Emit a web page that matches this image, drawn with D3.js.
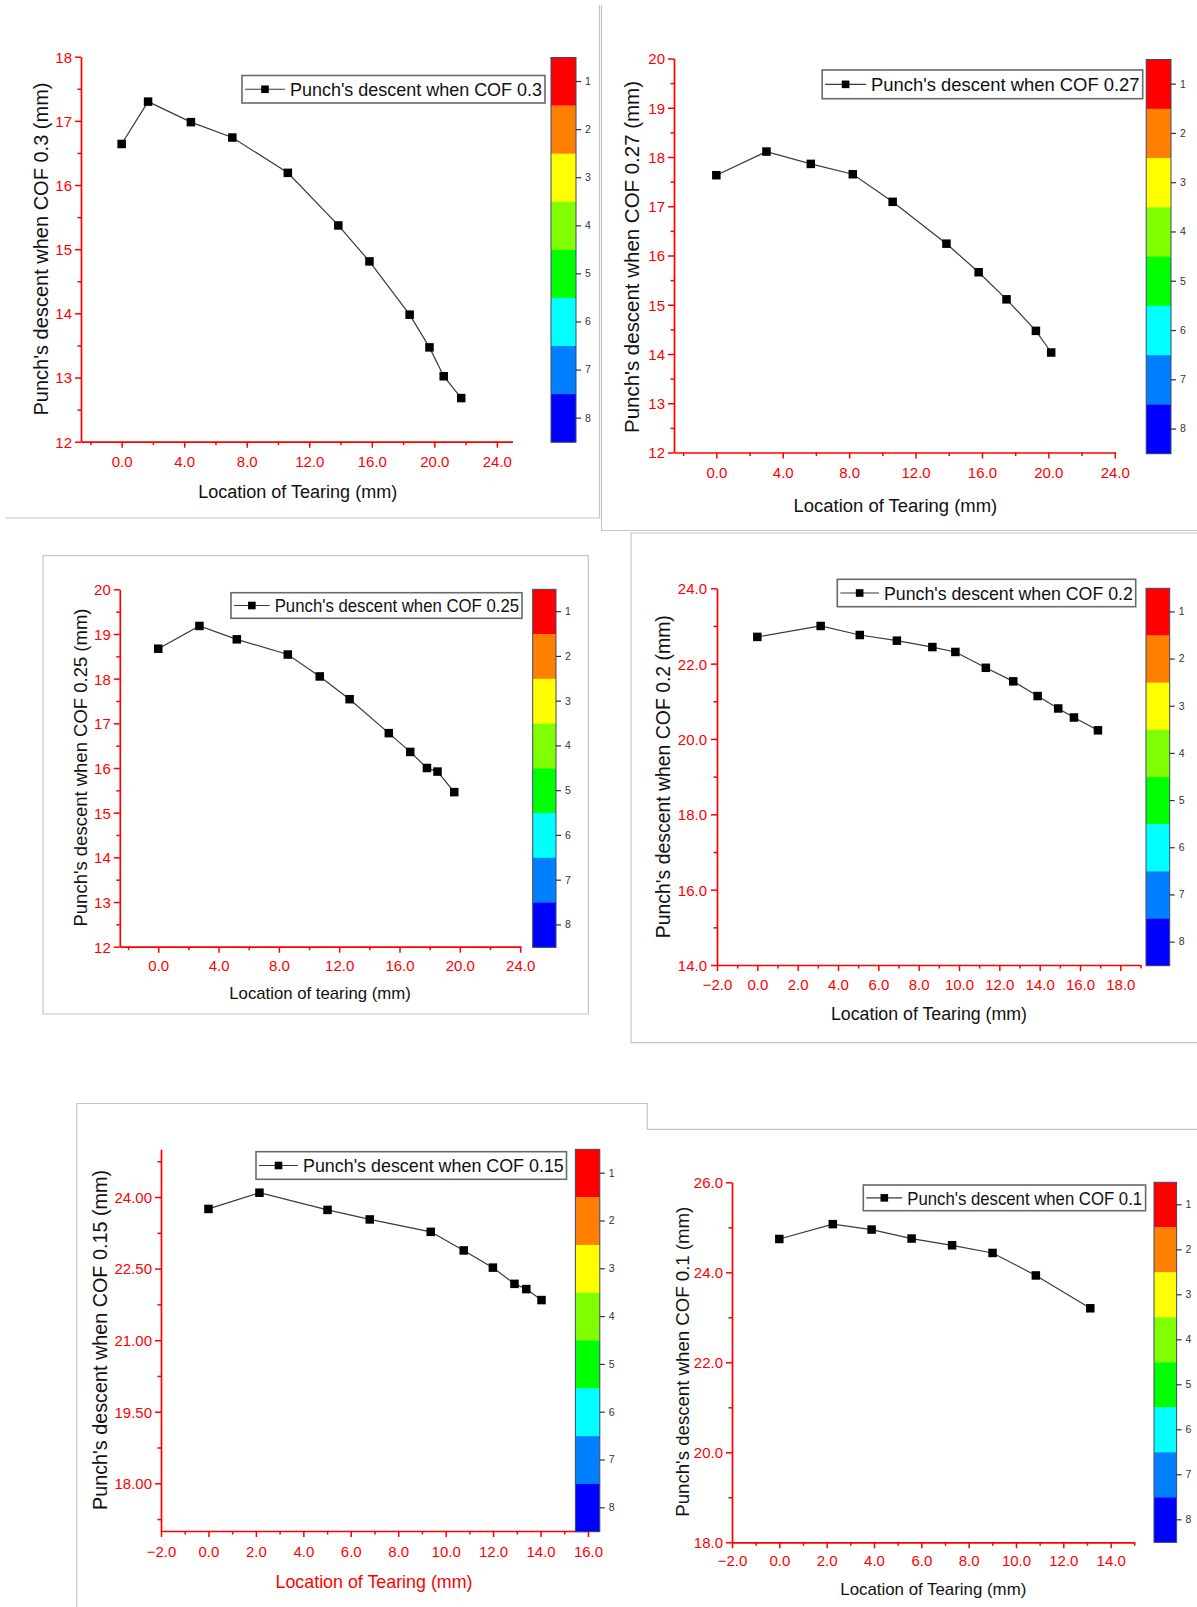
<!DOCTYPE html>
<html>
<head>
<meta charset="utf-8">
<script src="https://cdn.jsdelivr.net/npm/d3@7"></script>
<style>
  body { margin: 0; background: #ffffff; }
  svg { display: block; }
</style>
</head>
<body>
<svg id="chart" width="1197" height="1607"></svg>
<script>
// ---------------- DATA ----------------
const locCOF030  = [0.0, 1.69, 4.43, 7.08, 10.63, 13.86, 15.85, 18.42, 19.69, 20.60, 21.72];
const descCOF030 = [16.64, 17.30, 16.98, 16.74, 16.19, 15.37, 14.81, 13.98, 13.47, 13.02, 12.68];

const locCOF027  = [0.0, 3.02, 5.69, 8.22, 10.62, 13.86, 15.80, 17.48, 19.25, 20.17];
const descCOF027 = [17.63, 18.11, 17.86, 17.65, 17.09, 16.24, 15.66, 15.11, 14.47, 14.03];

const locCOF025  = [0.0, 2.73, 5.21, 8.59, 10.71, 12.69, 15.29, 16.71, 17.82, 18.52, 19.63];
const descCOF025 = [18.67, 19.18, 18.88, 18.54, 18.05, 17.54, 16.78, 16.36, 16.00, 15.92, 15.46];

const locCOF020  = [0.0, 3.14, 5.08, 6.92, 8.68, 9.82, 11.33, 12.69, 13.90, 14.92, 15.70, 16.89];
const descCOF020 = [22.71, 23.00, 22.76, 22.61, 22.44, 22.31, 21.89, 21.53, 21.14, 20.81, 20.57, 20.23];

const locCOF015  = [0.0, 2.15, 5.02, 6.80, 9.37, 10.76, 11.99, 12.90, 13.40, 14.04];
const descCOF015 = [23.75, 24.09, 23.73, 23.53, 23.27, 22.88, 22.52, 22.18, 22.07, 21.84];

const locCOF010  = [0.0, 2.26, 3.90, 5.59, 7.30, 9.01, 10.84, 13.14];
const descCOF010 = [24.74, 25.07, 24.95, 24.75, 24.60, 24.43, 23.93, 23.20];

// tick values
const xTicks0to24   = [0, 4, 8, 12, 16, 20, 24];
const xMinor0to24   = [-2, 2, 6, 10, 14, 18, 22];
const yTicks12to18  = [12, 13, 14, 15, 16, 17, 18];
const yMinor12to18  = [12.5, 13.5, 14.5, 15.5, 16.5, 17.5];
const yTicks12to20  = [12, 13, 14, 15, 16, 17, 18, 19, 20];
const yMinor12to20  = [12.5, 13.5, 14.5, 15.5, 16.5, 17.5, 18.5, 19.5];
const xTicksM2to18  = [-2, 0, 2, 4, 6, 8, 10, 12, 14, 16, 18];
const xMinorM2to18  = [-1, 1, 3, 5, 7, 9, 11, 13, 15, 17, 19];
const yTicks14to24  = [14, 16, 18, 20, 22, 24];
const yMinor14to24  = [15, 17, 19, 21, 23];
const xTicksM2to16  = [-2, 0, 2, 4, 6, 8, 10, 12, 14, 16];
const xMinorM2to16  = [-1, 1, 3, 5, 7, 9, 11, 13, 15];
const yTicks18to24  = [18, 19.5, 21, 22.5, 24];
const yMinor18to24  = [17.25, 18.75, 20.25, 21.75, 23.25, 24.75];
const xTicksM2to14  = [-2, 0, 2, 4, 6, 8, 10, 12, 14];
const xMinorM2to14  = [-1, 1, 3, 5, 7, 9, 11, 13, 15];
const yTicks18to26  = [18, 20, 22, 24, 26];
const yMinor18to26  = [19, 21, 23, 25];

const colorbarColors = ["#FF0000", "#FF8000", "#FFFF00", "#80FF00", "#00FF00", "#00FFFF", "#0080FF", "#0000FF"];
const colorbarLabels = ["1", "2", "3", "4", "5", "6", "7", "8"];

const legendNames = [
  "Punch's descent when COF 0.3",
  "Punch's descent when COF 0.27",
  "Punch's descent when COF 0.25",
  "Punch's descent when COF 0.2",
  "Punch's descent when COF 0.15",
  "Punch's descent when COF 0.1"
];
const yTitles = [
  "Punch's descent when COF 0.3 (mm)",
  "Punch's descent when COF 0.27 (mm)",
  "Punch's descent when COF 0.25 (mm)",
  "Punch's descent when COF 0.2 (mm)",
  "Punch's descent when COF 0.15 (mm)",
  "Punch's descent when COF 0.1 (mm)"
];
const xTitles = [
  "Location of Tearing (mm)",
  "Location of Tearing (mm)",
  "Location of tearing (mm)",
  "Location of Tearing (mm)",
  "Location of Tearing (mm)",
  "Location of Tearing (mm)"
];

// ---------------- LAYOUT / STYLE ----------------
const FONT = "'Liberation Sans', Arial, Helvetica, sans-serif";
const RED = "#ff0000";
const f1 = d3.format(".1f"), fInt = d3.format("d"), f2 = d3.format(".2f");

const panels = [
  { xs: locCOF030, ys: descCOF030, xDomain: [-2.6, 25], yDomain: [12, 18],
    xMajor: xTicks0to24, xMinor: xMinor0to24, yMajor: yTicks12to18, yMinor: yMinor12to18, xFmt: f1, yFmt: fInt,
    L: { left: 81, right: 512.5, top: 56.7, bottom: 441.7, xTickOff: 20, yTickOff: 9,
         leg: [242, 75.5, 545, 103], legText: 290, legLen: 252,
         cb: [551, 57.5, 576, 442.2],
         yt: [41, 249, 333, 20], xt: [297.7, 491.5, 199, 18], xtColor: "#111" } },
  { xs: locCOF027, ys: descCOF027, xDomain: [-2.55, 24.05], yDomain: [12, 20],
    xMajor: xTicks0to24, xMinor: xMinor0to24, yMajor: yTicks12to20, yMinor: yMinor12to20, xFmt: f1, yFmt: fInt,
    L: { left: 674, right: 1115.6, top: 58.5, bottom: 452.5, xTickOff: 20.5, yTickOff: 9,
         leg: [822.2, 70, 1142.7, 98.7], legText: 871, legLen: 268.6,
         cb: [1146.2, 59.5, 1171, 453.7],
         yt: [632.4, 257, 352, 20], xt: [895.4, 505.4, 203.6, 18], xtColor: "#111" } },
  { xs: locCOF025, ys: descCOF025, xDomain: [-2.55, 24.05], yDomain: [12, 20],
    xMajor: xTicks0to24, xMinor: xMinor0to24, yMajor: yTicks12to20, yMinor: yMinor12to20, xFmt: f1, yFmt: fInt,
    L: { left: 119.8, right: 520.9, top: 589.3, bottom: 946.7, xTickOff: 18.5, yTickOff: 9,
         leg: [231, 592.7, 522, 618.3], legText: 274.7, legLen: 244.4,
         cb: [532.7, 589.3, 556, 947.3],
         yt: [81, 767.5, 318, 18.5], xt: [320, 993, 181.5, 17], xtColor: "#111" } },
  { xs: locCOF020, ys: descCOF020, xDomain: [-2, 19], yDomain: [14, 24],
    xMajor: xTicksM2to18, xMinor: xMinorM2to18, yMajor: yTicks14to24, yMinor: yMinor14to24, xFmt: f1, yFmt: f1,
    L: { left: 717, right: 1140.5, top: 588.3, bottom: 965, xTickOff: 20, yTickOff: 10,
         leg: [837.3, 579.3, 1135.7, 606.7], legText: 884, legLen: 248.8,
         cb: [1146, 588.3, 1169.7, 965.7],
         yt: [663, 776.7, 323, 19.4], xt: [929, 1014, 196, 17.6], xtColor: "#111" } },
  { xs: locCOF015, ys: descCOF015, xDomain: [-2, 16], yDomain: [17, 25],
    xMajor: xTicksM2to16, xMinor: xMinorM2to16, yMajor: yTicks18to24, yMinor: yMinor18to24, xFmt: f1, yFmt: f2,
    L: { left: 161, right: 588, top: 1149.3, bottom: 1531, xTickOff: 20.5, yTickOff: 9,
         leg: [256, 1151.7, 566.5, 1179.3], legText: 303, legLen: 260.8,
         cb: [575.4, 1149.3, 599.8, 1531.7],
         yt: [99.6, 1340, 340, 19.8], xt: [374, 1581.7, 197, 17.7], xtColor: RED } },
  { xs: locCOF010, ys: descCOF010, xDomain: [-2, 15], yDomain: [18, 26],
    xMajor: xTicksM2to14, xMinor: xMinorM2to14, yMajor: yTicks18to26, yMinor: yMinor18to26, xFmt: f1, yFmt: f1,
    L: { left: 732, right: 1134.3, top: 1182.3, bottom: 1542.3, xTickOff: 18.5, yTickOff: 9,
         leg: [863.3, 1185, 1145.6, 1210.7], legText: 907.3, legLen: 234.8,
         cb: [1154, 1182.3, 1176.6, 1542.3],
         yt: [682, 1361.7, 310, 18.6], xt: [933.3, 1589.3, 186, 16.6], xtColor: "#111" } }
];

// panel frame lines (light gray borders of the pasted sub-figures)
const framePaths = [
  "M5,518H599.5V5",
  "M601.5,5V530.5H1197",
  "M43,555.7H588.3V1014H43Z",
  "M1197,533H631V1042.7H1197",
  "M76.7,1607V1103.5H647.3V1129.3H1197"
];

const svg = d3.select("#chart");
svg.append("rect").attr("width", 1197).attr("height", 1607).attr("fill", "#fff");

svg.append("g").selectAll("path").data(framePaths).join("path")
  .attr("d", d => d).attr("fill", "none").attr("stroke", "#c6c6c6").attr("stroke-width", 1.2);

function styleAxis(sel) {
  sel.attr("font-family", FONT).attr("font-size", 15);
  sel.selectAll(".domain").attr("stroke", RED).attr("stroke-width", 1.7);
  sel.selectAll(".tick line").attr("stroke", RED).attr("stroke-width", 1.5);
  sel.selectAll(".tick text").attr("fill", RED);
}

panels.forEach((p, i) => {
  const L = p.L;
  const g = svg.append("g");
  const x = d3.scaleLinear().domain(p.xDomain).range([L.left, L.right]);
  const y = d3.scaleLinear().domain(p.yDomain).range([L.bottom, L.top]);

  // minor ticks
  const gxm = g.append("g").attr("transform", `translate(0,${L.bottom})`)
    .call(d3.axisBottom(x).tickValues(p.xMinor).tickSize(3.5).tickSizeOuter(0).tickFormat(""));
  gxm.select(".domain").remove();
  styleAxis(gxm);
  const gym = g.append("g").attr("transform", `translate(${L.left},0)`)
    .call(d3.axisLeft(y).tickValues(p.yMinor).tickSize(3.5).tickSizeOuter(0).tickFormat(""));
  gym.select(".domain").remove();
  styleAxis(gym);

  // major axes
  const gx = g.append("g").attr("transform", `translate(0,${L.bottom})`)
    .call(d3.axisBottom(x).tickValues(p.xMajor).tickSize(6).tickSizeOuter(0).tickFormat(p.xFmt));
  styleAxis(gx);
  gx.selectAll(".tick text").attr("y", L.xTickOff).attr("dy", "0.36em");

  const gy = g.append("g").attr("transform", `translate(${L.left},0)`)
    .call(d3.axisLeft(y).tickValues(p.yMajor).tickSize(6).tickSizeOuter(0).tickFormat(p.yFmt));
  styleAxis(gy);
  gy.selectAll(".tick text").attr("x", -L.yTickOff).attr("dy", "0.36em");

  // axis titles
  g.append("text")
    .attr("transform", `translate(${L.yt[0]},${L.yt[1]}) rotate(-90)`)
    .attr("text-anchor", "middle").attr("dy", "0.35em")
    .attr("font-family", FONT).attr("font-size", L.yt[3]).attr("fill", "#111")
    .attr("textLength", L.yt[2]).attr("lengthAdjust", "spacingAndGlyphs")
    .text(yTitles[i]);
  g.append("text")
    .attr("x", L.xt[0]).attr("y", L.xt[1])
    .attr("text-anchor", "middle").attr("dy", "0.35em")
    .attr("font-family", FONT).attr("font-size", L.xt[3]).attr("fill", L.xtColor)
    .attr("textLength", L.xt[2]).attr("lengthAdjust", "spacingAndGlyphs")
    .text(xTitles[i]);

  // data line + markers
  const idx = d3.range(p.xs.length);
  const line = d3.line().x(k => x(p.xs[k])).y(k => y(p.ys[k]));
  g.append("path").attr("d", line(idx)).attr("fill", "none")
    .attr("stroke", "#3a3a3a").attr("stroke-width", 1.2);
  const ms = 8.5;
  g.append("g").selectAll("rect").data(idx).join("rect")
    .attr("x", k => x(p.xs[k]) - ms / 2).attr("y", k => y(p.ys[k]) - ms / 2)
    .attr("width", ms).attr("height", ms).attr("fill", "#000");

  // legend
  const [lx1, ly1, lx2, ly2] = L.leg;
  const lcy = (ly1 + ly2) / 2;
  g.append("rect").attr("x", lx1).attr("y", ly1).attr("width", lx2 - lx1).attr("height", ly2 - ly1)
    .attr("fill", "#fff").attr("stroke", "#6a6a6a").attr("stroke-width", 1.6);
  g.append("line").attr("x1", lx1 + 3).attr("x2", L.legText - 5).attr("y1", lcy).attr("y2", lcy)
    .attr("stroke", "#3a3a3a").attr("stroke-width", 1.2);
  const mx = (lx1 + 3 + L.legText - 5) / 2;
  g.append("rect").attr("x", mx - 3.8).attr("y", lcy - 3.8).attr("width", 7.6).attr("height", 7.6).attr("fill", "#000");
  g.append("text").attr("x", L.legText).attr("y", lcy).attr("dy", "0.36em")
    .attr("font-family", FONT).attr("font-size", 19).attr("fill", "#111")
    .attr("textLength", L.legLen).attr("lengthAdjust", "spacingAndGlyphs")
    .text(legendNames[i]);

  // colour bar
  const [cx1, cy1, cx2, cy2] = L.cb;
  const band = d3.scaleBand().domain(colorbarLabels).range([cy1, cy2]).padding(0);
  const cb = g.append("g");
  cb.selectAll("rect").data(colorbarLabels).join("rect")
    .attr("x", cx1).attr("y", d => band(d)).attr("width", cx2 - cx1).attr("height", band.bandwidth() + 0.3)
    .attr("fill", (d, j) => colorbarColors[j]);
  cb.append("rect").attr("x", cx1).attr("y", cy1).attr("width", cx2 - cx1).attr("height", cy2 - cy1)
    .attr("fill", "none").attr("stroke", "#3c4a6a").attr("stroke-width", 1);
  const cbAxis = cb.append("g").attr("transform", `translate(${cx2},0)`)
    .call(d3.axisRight(band).tickSize(5).tickPadding(4).tickSizeOuter(0));
  cbAxis.select(".domain").remove();
  cbAxis.attr("font-family", FONT).attr("font-size", 10.5);
  cbAxis.selectAll(".tick line").attr("stroke", "#333").attr("stroke-width", 1.2);
  cbAxis.selectAll(".tick text").attr("fill", "#333");
});
</script>
</body>
</html>
